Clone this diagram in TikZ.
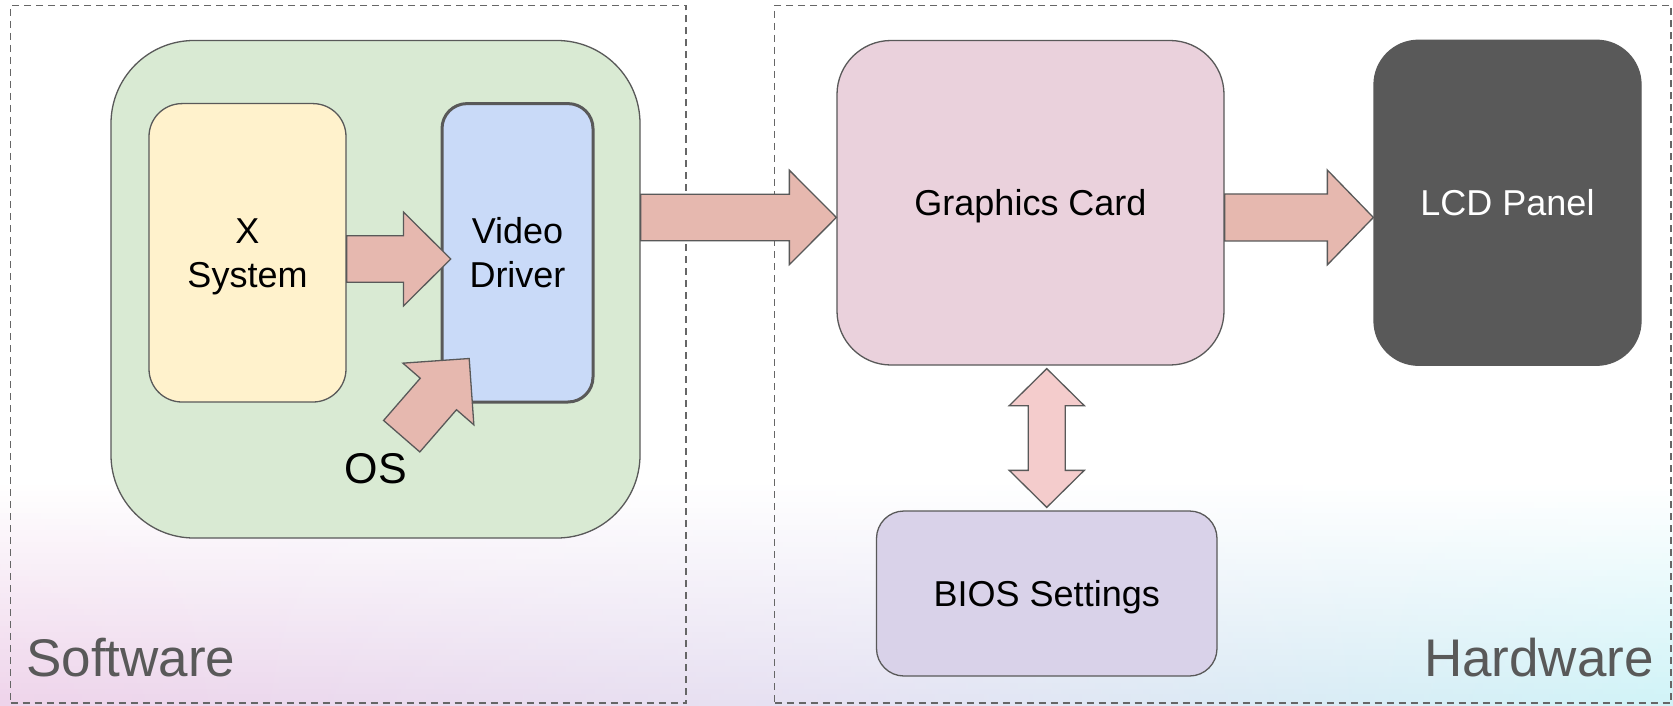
\documentclass[tikz,border=0pt]{standalone}
\usepackage{fontspec}
\setmainfont{Liberation Sans}
\usetikzlibrary{calc}
\definecolor{greenfill}{HTML}{D9EAD3}
\definecolor{yellowfill}{HTML}{FFF2CC}
\definecolor{bluefill}{HTML}{C9DAF8}
\definecolor{pinkfill}{HTML}{EAD1DC}
\definecolor{lcdfill}{HTML}{595959}
\definecolor{biosfill}{HTML}{D9D2E9}
\definecolor{arrowfill}{HTML}{E6B8AF}
\definecolor{darrowfill}{HTML}{F4CCCC}
\definecolor{edgegray}{HTML}{595959}
\definecolor{labelgray}{HTML}{595959}
\definecolor{dashgray}{HTML}{666666}
\definecolor{bgL}{HTML}{EED3EA}
\definecolor{bgM}{HTML}{E5E1F2}
\definecolor{bgR}{HTML}{CFF3F7}

% #1 fill, #2 tail, #3 tip, #4 shaft half width, #5 head half width, #6 head length
\newcommand\myblockarrow[6]{%
  \path ($#3!#6!#2$) coordinate (hb);
  \draw[barrow, fill=#1] ($#2!#4!90:#3$) -- ($(hb)!#4!90:#3$) -- ($(hb)!#5!90:#3$) -- #3
    -- ($(hb)!#5!-90:#3$) -- ($(hb)!#4!-90:#3$) -- ($#2!#4!-90:#3$) -- cycle;}
% double-headed version
\newcommand\mydblockarrow[6]{%
  \path ($#2!#6!#3$) coordinate (hba) ($#3!#6!#2$) coordinate (hbb);
  \draw[barrow, fill=#1] #2 -- ($(hba)!#5!90:#3$) -- ($(hba)!#4!90:#3$) -- ($(hbb)!#4!90:#3$)
    -- ($(hbb)!#5!90:#3$) -- #3 -- ($(hbb)!#5!-90:#3$) -- ($(hbb)!#4!-90:#3$)
    -- ($(hba)!#4!-90:#3$) -- ($(hba)!#5!-90:#3$) -- cycle;}

\begin{document}
\begin{tikzpicture}[x=1pt,y=-1pt,
  box/.style={draw=edgegray, line width=1.3pt, inner sep=0pt, align=center,
    font=\fontsize{36}{44}\selectfont, text=black, text depth=0pt},
  dashbox/.style={draw=dashgray, line width=1.3pt, dash pattern=on 7pt off 5pt, inner sep=0pt},
  barrow/.style={draw=edgegray, line width=1.3pt, line join=miter},
  biglabel/.style={font=\fontsize{53}{60}\selectfont, text=labelgray, inner sep=0pt}]
\useasboundingbox (0,0) rectangle (1673,706);
\fill[white] (0,0) rectangle (1673,706);
\begin{scope}
\clip (0,0) rectangle (1673,706);
\foreach \i in {0,...,40} {
  \pgfmathsetmacro\t{100*\i/40}
  \pgfmathsetmacro\ya{480+\i*5.65}
  \fill[left color=bgL!\t!white, right color=bgR!\t!white, middle color=bgM!\t!white]
    (0,\ya) rectangle (1673,\ya+6);
}
\end{scope}

% group frames
\node[dashbox, minimum width=675.5pt, minimum height=697.5pt] (swbox) at (348.25,354.25) {};
\node[dashbox, minimum width=896.5pt, minimum height=697.5pt] (hwbox) at (1222.75,354.25) {};

% software side
\node[box, fill=greenfill, minimum width=529pt, minimum height=497.5pt, rounded corners=83pt] (green) at (375.5,289.25) {};
\node[box, fill=yellowfill, minimum width=197pt, minimum height=298.4pt, rounded corners=33pt] (xs) at (247.5,252.8) {X\\System};
\node[box, fill=bluefill, line width=3pt, minimum width=151pt, minimum height=298.4pt, rounded corners=25pt] (vd) at (517.5,252.8) {Video\\Driver};

% hardware side
\node[box, fill=pinkfill, minimum width=387pt, minimum height=324.5pt, rounded corners=54pt] (gc) at (1030.5,202.75) {Graphics Card};
\node[box, fill=lcdfill, text=white, minimum width=267pt, minimum height=325pt, rounded corners=44.5pt] (lcd) at (1507.5,202.75) {LCD Panel};
\node[box, fill=biosfill, minimum width=340.5pt, minimum height=165pt, rounded corners=27.5pt] (bios) at (1046.75,593.5) {BIOS Settings};

% connector end points
\coordinate (a1t) at ($(xs.east)+(0,6.2)$);
\coordinate (a1h) at ($(a1t -| vd.west)+(10.3,0)$);
\coordinate (a2h) at ($(gc.west)+(0,14.7)$);
\coordinate (a2t) at (a2h -| green.east);
\coordinate (a3h) at ($(lcd.west)+(0,14.7)$);
\coordinate (a3t) at (a3h -| gc.east);
\coordinate (dtop) at ($(bios.north |- gc.south)+(0,3)$);
\coordinate (dbot) at ($(bios.north)+(0,-3)$);
\coordinate (ost) at (401.7,436.2);
\coordinate (osh) at ($(vd.south west)+(28.7,-45)$);

% connectors
\myblockarrow{arrowfill}{(a1t)}{(a1h)}{23.3pt}{46.9pt}{47.3pt}
\myblockarrow{arrowfill}{(ost)}{(osh)}{24pt}{47pt}{47pt}
\myblockarrow{arrowfill}{(a2t)}{(a2h)}{23.3pt}{47.2pt}{47pt}
\myblockarrow{arrowfill}{(a3t)}{(a3h)}{23.5pt}{47.4pt}{46pt}
\mydblockarrow{darrowfill}{(dtop)}{(dbot)}{18.5pt}{37.5pt}{37pt}

% labels
\node[font=\fontsize{43}{50}\selectfont, inner sep=0pt] (os) at (376,469) {OS};
\node[biglabel, anchor=base west] (swl) at (26,676) {Software};
\node[biglabel, anchor=base east] (hwl) at (1654,676) {Hardware};
\end{tikzpicture}
\end{document}
